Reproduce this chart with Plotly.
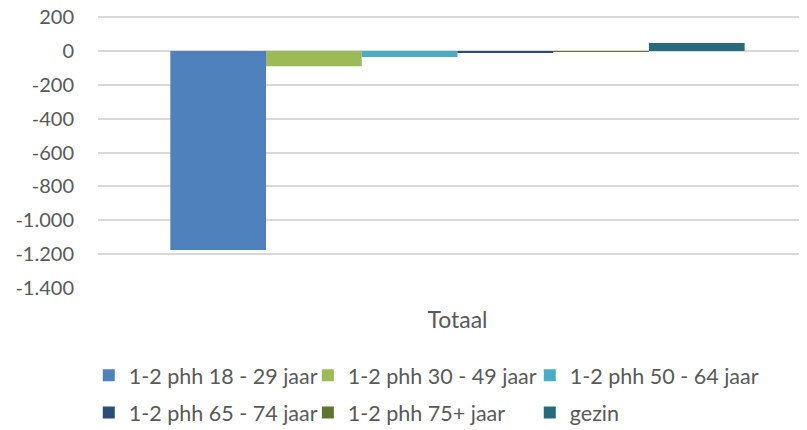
import plotly.graph_objects as go

categories = ["Totaal"]
series_names = ["1-2 phh 18 - 29 jaar", "1-2 phh 30 - 49 jaar", "1-2 phh 50 - 64 jaar",
                "1-2 phh 65 - 74 jaar", "1-2 phh 75+ jaar", "gezin"]
values_18_29 = [-1176]
values_30_49 = [-90]
values_50_64 = [-36]
values_65_74 = [-6]
values_75plus = [-1]
values_gezin = [48]
series_values = [values_18_29, values_30_49, values_50_64, values_65_74, values_75plus, values_gezin]
colors = ["#4F81BD", "#9BBB59", "#4BACC6", "#2C4D75", "#5F7530", "#276A7C"]
tick_vals = [200, 0, -200, -400, -600, -800, -1000, -1200, -1400]
tick_text = ["200", "0", "-200", "-400", "-600", "-800", "-1.000", "-1.200", "-1.400"]

FONT = "Lato, Calibri, Carlito, sans-serif"
legend_ids = ["legend", "legend2", "legend3", "legend4", "legend5", "legend6"]
legend_x = [-0.013, 0.296, 0.609, -0.013, 0.296, 0.609]
legend_y = [-0.321, -0.321, -0.321, -0.458, -0.458, -0.458]

fig = go.Figure()
for name, vals, col, lid in zip(series_names, series_values, colors, legend_ids):
    fig.add_trace(go.Bar(x=categories, y=vals, name=name, marker_color=col,
                         marker_line_width=0, legend=lid))

legend_layout = {}
for lid, lx, ly in zip(legend_ids, legend_x, legend_y):
    legend_layout[lid] = dict(orientation="h", xanchor="left", yanchor="middle",
                              x=lx, y=ly,
                              font=dict(family=FONT, size=21.5, color="#595959"),
                              itemwidth=30, bgcolor="rgba(0,0,0,0)")

# page body has an 8px margin, so the figure is drawn at (8, 8)
fig.update_layout(
    width=799, height=422,
    margin=dict(l=90, r=0, t=8, b=142, autoexpand=False),
    paper_bgcolor="white", plot_bgcolor="white",
    barmode="group", bargap=0.19, bargroupgap=0,
    font=dict(family=FONT, size=19, color="#595959"),
    showlegend=True,
    xaxis=dict(showgrid=False, showline=False, ticks="", ticklabelstandoff=16,
               automargin=False, range=[-0.507, 0.493],
               tickfont=dict(family=FONT, size=23, color="#595959")),
    yaxis=dict(range=[-1401, 207], tickvals=tick_vals, ticktext=tick_text,
               showgrid=True, gridcolor="#D9D9D9", gridwidth=2,
               zeroline=True, zerolinecolor="#D9D9D9", zerolinewidth=2,
               showline=False, ticks="", ticklabelstandoff=23, automargin=False,
               ticklabeloverflow="allow",
               tickfont=dict(family=FONT, size=20, color="#595959")),
    **legend_layout,
)

fig.write_html("out.html")
